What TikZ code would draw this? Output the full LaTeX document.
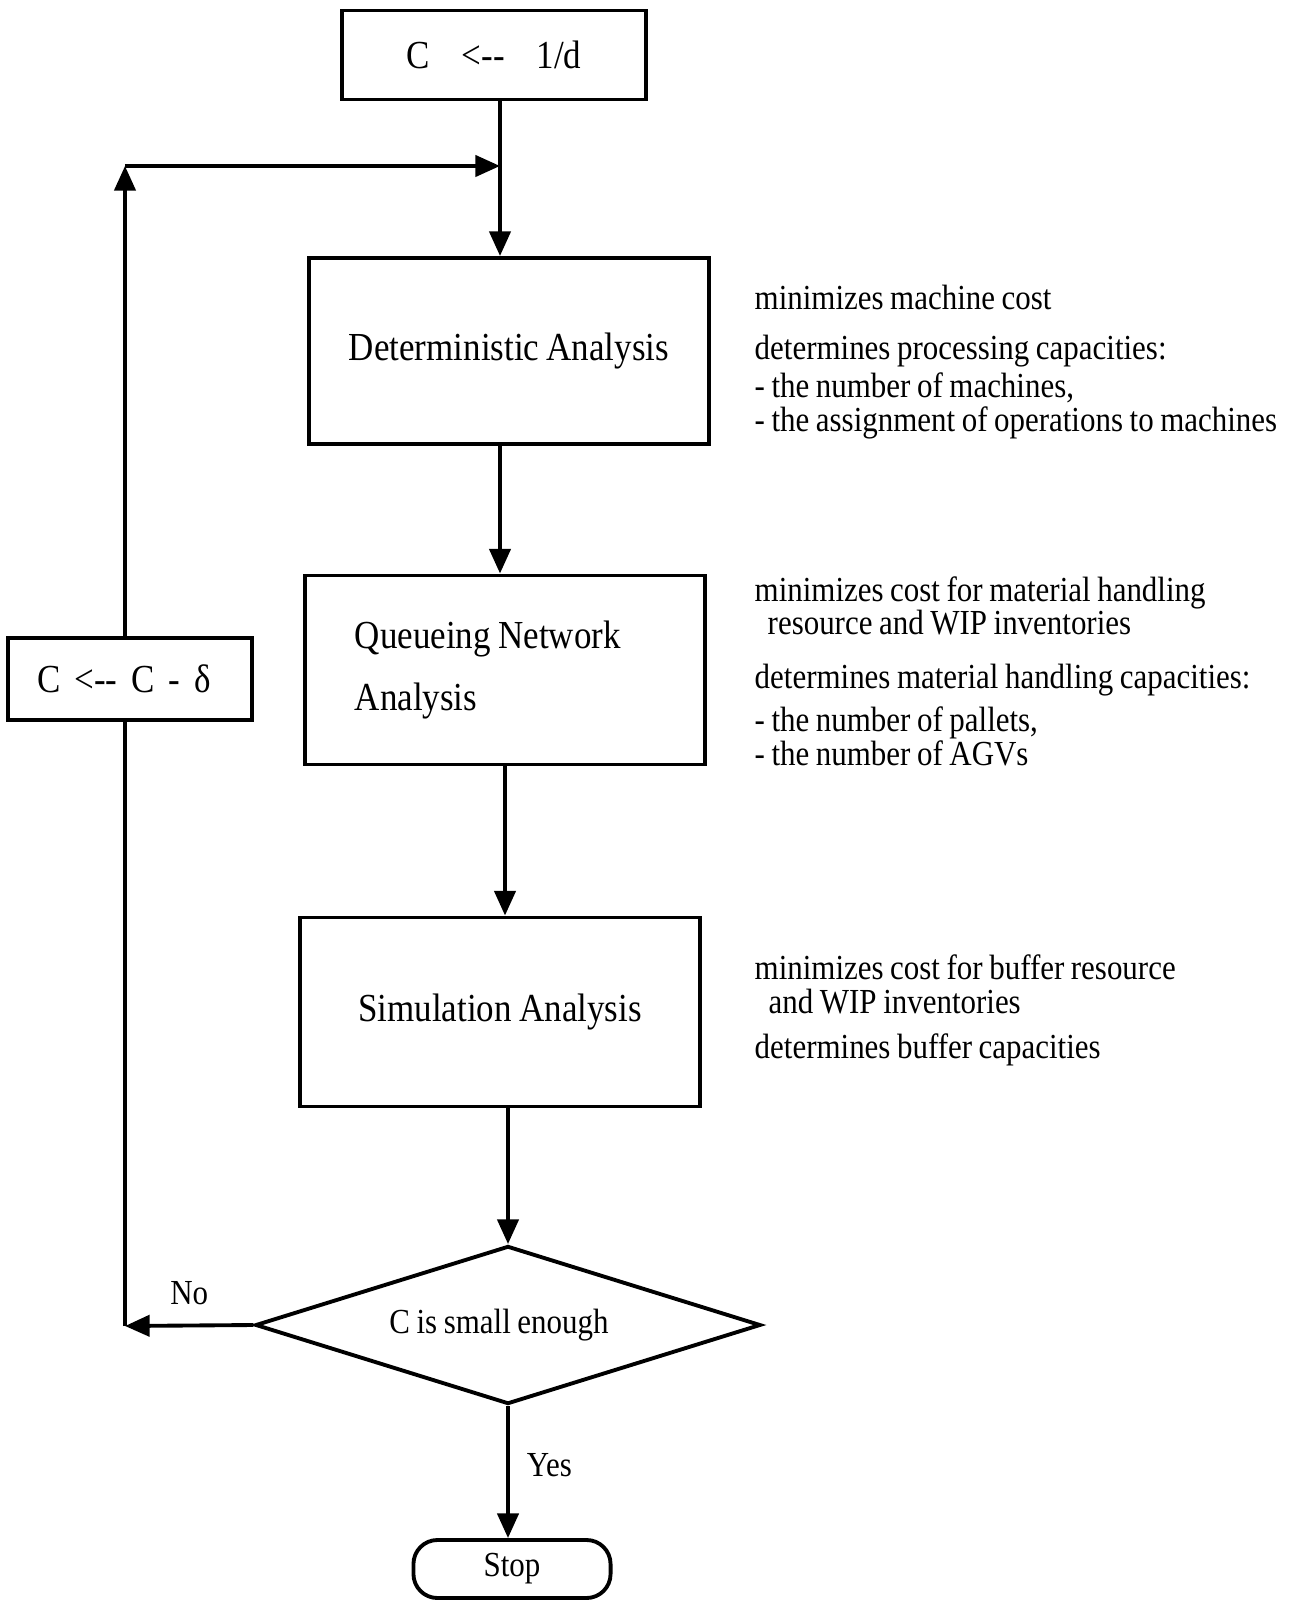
\documentclass[tikz,border=0pt]{standalone}
\usepackage{fontspec}
\setmainfont{Liberation Serif}[FakeStretch=0.88,WordSpace=0.85]
\usetikzlibrary{arrows.meta,shapes.geometric}
\newcommand{\stagefont}{\fontsize{11.3}{13.5}\selectfont}
\newcommand{\notefont}{\fontsize{10}{12}\selectfont}
\begin{document}
\begin{tikzpicture}[x=0.01cm,y=-0.01cm,font=\notefont,
  stage/.style={draw,line width=1.1pt,font=\stagefont},
  decision/.style={draw,diamond,shape aspect=3.2,line width=1.1pt,inner sep=0pt,minimum width=5.05cm,minimum height=1.58cm},
  terminal/.style={draw,line width=1.1pt,rounded corners=0.24cm,minimum width=1.97cm,minimum height=0.58cm},
  flow/.style={line width=1.1pt,-{Triangle[length=7pt,width=6pt]}},
  note/.style={anchor=base west,inner sep=0pt}]
  \useasboundingbox (0,0) rectangle (1293,1601);
  \node[stage,minimum width=3.04cm,minimum height=0.89cm] (init) at (494,55) {C\hspace{.8em}<-{}-\hspace{.8em}1/d};
  \node[stage,minimum width=4cm,minimum height=1.86cm] (det) at (509,351) {\raisebox{1.5pt}{Deterministic Analysis}};
  \node[stage,minimum width=4cm,minimum height=1.89cm,text width=3cm,align=flush left] (queue) at (505,670) {Queueing Network\\[4pt]Analysis};
  \node[stage,minimum width=4cm,minimum height=1.89cm] (sim) at (500,1012) {Simulation Analysis};
  \node[decision] (test) at (508,1325) {C is small enough\kern0.18cm};
  \node[terminal] (stop) at (512,1569) {Stop};
  \node[stage,minimum width=2.43cm,minimum height=0.82cm] (update) at (130,679) {C\hspace{.35em}<-{}-\hspace{.35em}C\hspace{.35em}-\hspace{.35em}δ\kern0.12cm};
  \coordinate (join) at (500,166);
  \coordinate (corner) at (125,166);
  \coordinate (back) at (125,1326);
  \draw[flow] (init.south -| join) -- (det.north -| join);
  \draw[flow] (det.south -| join) -- (queue.north -| join);
  \draw[flow] (queue.south) -- (queue.south |- sim.north);
  \draw[flow] (test.north |- sim.south) -- (test.north);
  \draw[flow] (test.west) -- node[midway,above=2pt] (no) {No} (back);
  \draw[line width=1.1pt] (back) -- (back |- update.south);
  \draw[flow] (back |- update.north) -- (corner);
  \draw[flow] (corner) -- (join);
  \draw[flow] (test.south) -- node[pos=.45,right=1.5pt] (yes) {Yes} (test.south |- stop.north);
  \foreach \x/\y/\txt [count=\i] in {754/310/minimizes machine cost,
      754/360/determines processing capacities:,
      754/398/{- the number of machines,},
      754/432/- the assignment of operations to machines,
      754/602/minimizes cost for material handling,
      767/635/resource and WIP inventories,
      754/689/determines material handling capacities:,
      754/731/{- the number of pallets,},
      754/765/- the number of AGVs,
      754/979/minimizes cost for buffer resource,
      768/1013/and WIP inventories,
      754/1058/determines buffer capacities} {
    \node[note] (note\i) at (\x,\y) {\txt};
  }
\end{tikzpicture}
\end{document}
